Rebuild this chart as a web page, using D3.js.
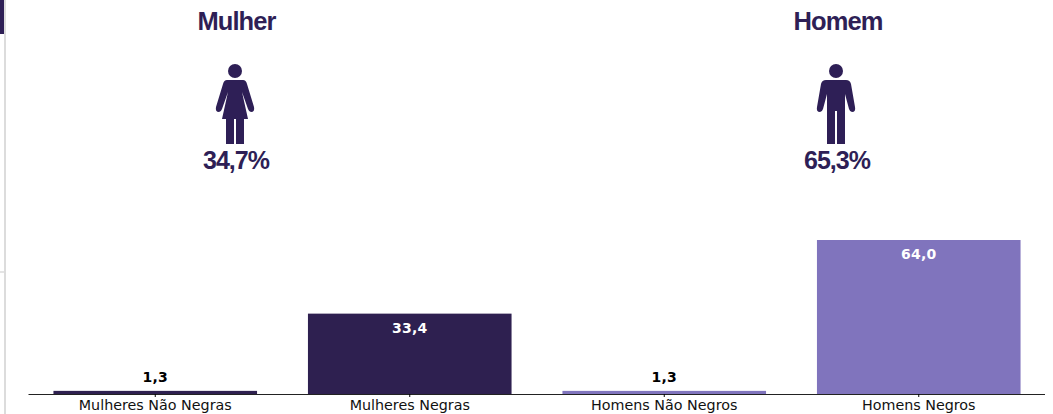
<!DOCTYPE html>
<html>
<head>
<meta charset="utf-8">
<script src="https://cdn.jsdelivr.net/npm/d3@7"></script>
<style>
  html, body { margin: 0; padding: 0; background: #fff; overflow: hidden; }
  svg { display: block; }
</style>
</head>
<body>
<div id="chart"></div>
<script>
var categories = ["Mulheres Não Negras", "Mulheres Negras", "Homens Não Negros", "Homens Negros"];
var values = [1.3, 33.4, 1.3, 64.0];
var barColors = ["#2e2050", "#2e2050", "#8074bd", "#8074bd"];
var groupTitles = ["Mulher", "Homem"];
var groupShares = ["34,7%", "65,3%"];

var width = 1053, height = 414;
var dark = "#2e1f56";
var svg = d3.select("#chart").append("svg").attr("width", width).attr("height", height);

// page bits left of the chart
svg.append("rect").attr("x", 4).attr("y", 0).attr("width", 2).attr("height", 414).attr("fill", "#dcdcdc");
svg.append("rect").attr("x", 0).attr("y", 271).attr("width", 4).attr("height", 2).attr("fill", "#e4e4e4");
svg.append("rect").attr("x", 0).attr("y", 0).attr("width", 4).attr("height", 34).attr("fill", dark);

var x = d3.scaleBand().domain(categories).range([28, 1046]).paddingInner(0.2).paddingOuter(0.1);
var y = d3.scaleLinear().domain([0, 64]).range([394, 240]);

function fmt(v) { return d3.format(".1f")(v).replace(".", ","); }

svg.selectAll("rect.bar").data(categories).enter().append("rect")
  .attr("class", "bar")
  .attr("x", function (d) { return x(d); })
  .attr("width", x.bandwidth())
  .attr("y", function (d, i) { return y(values[i]); })
  .attr("height", function (d, i) { return y(0) - y(values[i]); })
  .attr("fill", function (d, i) { return barColors[i]; });

// x axis
var axis = svg.append("g").attr("transform", "translate(0,394)")
  .call(d3.axisBottom(x).tickSize(3).tickPadding(3));
axis.select(".domain").attr("stroke", "#222").attr("d", "M28.5,0.5H1045");
axis.selectAll("text").attr("font-family", "DejaVu Sans").attr("font-size", "14.3px").attr("fill", "#111");

// value labels, inside for tall bars
svg.selectAll("text.val").data(categories).enter().append("text")
  .attr("class", "val")
  .attr("x", function (d) { return x(d) + x.bandwidth() / 2; })
  .attr("y", function (d, i) { return values[i] > 5 ? y(values[i]) + 19 : y(values[i]) - 9; })
  .attr("text-anchor", "middle")
  .attr("font-family", "DejaVu Sans").attr("font-size", "14px").attr("font-weight", "bold")
  .attr("letter-spacing", "0.3")
  .attr("fill", function (d, i) { return values[i] > 5 ? "#fff" : "#000"; })
  .text(function (d, i) { return fmt(values[i]); });

// titles and icons
var groupX = [236, 837];

groupTitles.forEach(function (t, i) {
  var g = svg.append("g").attr("transform", "translate(" + groupX[i] + ",0)");
  g.append("text").attr("x", 0.5 * (1 - i) + i).attr("y", 30).attr("text-anchor", "middle")
    .attr("font-family", "Liberation Sans").attr("font-size", "25.5px").attr("font-weight", "bold")
    .attr("letter-spacing", "-0.9").attr("fill", dark).text(t);
  g.append("text").attr("x", 0).attr("y", 169).attr("text-anchor", "middle")
    .attr("font-family", "Liberation Sans").attr("font-size", "25px").attr("font-weight", "bold")
    .attr("letter-spacing", "-1").attr("fill", dark).text(groupShares[i]);
  var icon = g.append("g").attr("transform", "translate(-1,0)");
  icon.append("circle").attr("cx", 0).attr("cy", 71).attr("r", 7).attr("fill", dark);
  var path = i === 0
    ? "M-8,80 H8 Q11,80 12,84 L19,107 Q20,112 16,112 Q14,112 13,109 L7,92 L13,119 H9 V144 H1 V119 H-1 V144 H-9 V119 H-13 L-7,92 L-13,109 Q-14,112 -16,112 Q-20,112 -19,107 L-12,84 Q-11,80 -8,80 Z"
    : "M-10,80 H10 Q14,80 15,84 L19,107 Q20,112 16,112 Q14,112 13,109 L9,94 V144 H1 V111 H-1 V144 H-9 V94 L-13,109 Q-14,112 -16,112 Q-20,112 -19,107 L-15,84 Q-14,80 -10,80 Z";
  icon.append("path").attr("d", path).attr("fill", dark);
});
</script>
</body>
</html>
